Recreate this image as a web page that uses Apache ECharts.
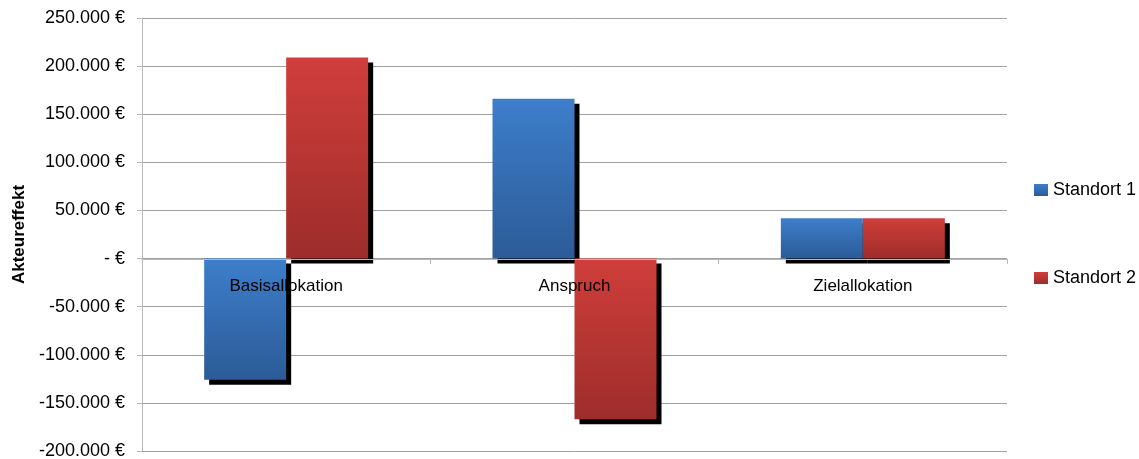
<!DOCTYPE html>
<html>
<head>
<meta charset="utf-8">
<script src="https://cdn.jsdelivr.net/npm/echarts@6/dist/echarts.min.js"></script>
<style>
html,body{margin:0;padding:0;background:#fff;}
#main{width:1139px;height:459px;}
</style>
</head>
<body>
<div id="main"></div>
<script>
var categories = ['Basisallokation', 'Anspruch', 'Zielallokation'];
var standort1 = [-126000, 166000, 42000];
var standort2 = [209000, -167000, 42000];
var seriesNames = ['Standort 1', 'Standort 2'];

var FONT = 'Liberation Sans, Arial, sans-serif';

function euro(v){
    if (v === 0) {
        return '- €';
    }
    var s = Math.abs(v).toString().replace(/\B(?=(\d{3})+(?!\d))/g, '.');
    return (v < 0 ? '-' : '') + s + ' €';
}

function grad(top, bottom){
    return new echarts.graphic.LinearGradient(0, 0, 0, 1, [
        {offset: 0, color: top},
        {offset: 1, color: bottom}
    ]);
}

var chart = echarts.init(document.getElementById('main'));
chart.setOption({
    animation: false,
    grid: {
        left: 142,
        right: 132,
        top: 18,
        bottom: 8,
        containLabel: false,
        outerBoundsMode: 'none'
    },
    legend: {
        orient: 'vertical',
        left: 1034,
        top: 181,
        padding: 0,
        itemGap: 70,
        itemWidth: 14,
        itemHeight: 12,
        icon: 'rect',
        textStyle: {fontFamily: FONT, fontSize: 18, color: '#000'},
        data: seriesNames
    },
    xAxis: {
        type: 'category',
        data: categories,
        z: 10,
        offset: -192,
        axisLine: {onZero: false, lineStyle: {color: '#b8b8b8', width: 1}},
        axisTick: {show: true, length: 5, lineStyle: {color: '#b8b8b8'}},
        axisLabel: {margin: 19, fontFamily: FONT, fontSize: 17, color: '#000'},
        splitLine: {show: false}
    },
    yAxis: {
        type: 'value',
        min: -200000,
        max: 250000,
        interval: 50000,
        name: 'Akteureffekt',
        nameLocation: 'middle',
        nameGap: 113,
        nameTextStyle: {fontFamily: FONT, fontSize: 17, fontWeight: 'bold', color: '#000'},
        axisLine: {show: true, lineStyle: {color: '#b8b8b8'}},
        axisTick: {show: true, length: 5, lineStyle: {color: '#b8b8b8'}},
        axisLabel: {margin: 17, fontFamily: FONT, fontSize: 18, color: '#000', formatter: euro},
        splitLine: {lineStyle: {color: '#a0a0a0', width: 1}}
    },
    series: [
        {
            name: seriesNames[0],
            type: 'bar',
            data: standort1,
            barWidth: 82,
            barGap: '0%',
            itemStyle: {
                color: grad('#3d7ecb', '#2c5b97'),
                shadowColor: '#000',
                shadowBlur: 0,
                shadowOffsetX: 5,
                shadowOffsetY: 5
            }
        },
        {
            name: seriesNames[1],
            type: 'bar',
            data: standort2,
            barWidth: 82,
            barGap: '0%',
            itemStyle: {
                color: grad('#d03e3b', '#9d2d2b'),
                shadowColor: '#000',
                shadowBlur: 0,
                shadowOffsetX: 5,
                shadowOffsetY: 5
            }
        }
    ]
});
</script>
</body>
</html>
